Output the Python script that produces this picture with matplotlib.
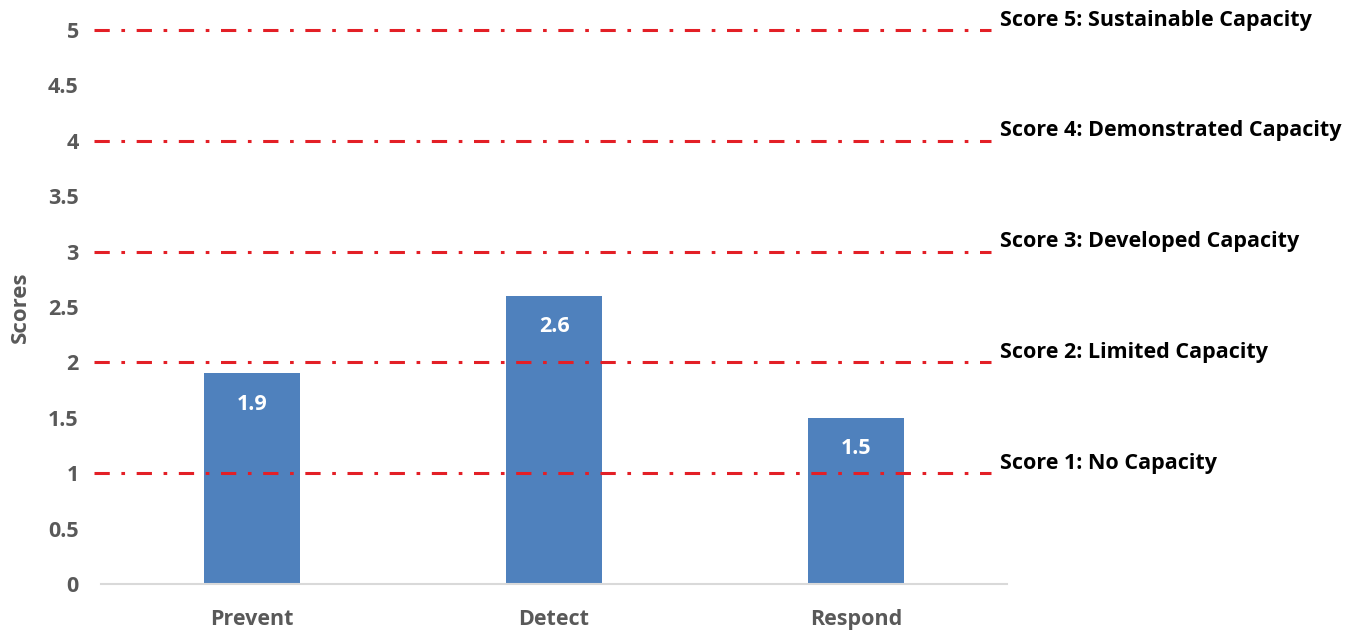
import matplotlib
matplotlib.use("Agg")
import matplotlib.pyplot as plt
from matplotlib.transforms import blended_transform_factory

categories = ["Prevent", "Detect", "Respond"]
scores = [1.9, 2.6, 1.5]
value_labels = ["1.9", "2.6", "1.5"]
levels = [1, 2, 3, 4, 5]
level_labels = ["Score 1: No Capacity", "Score 2: Limited Capacity",
                "Score 3: Developed Capacity", "Score 4: Demonstrated Capacity",
                "Score 5: Sustainable Capacity"]
yticks = [0, 0.5, 1, 1.5, 2, 2.5, 3, 3.5, 4, 4.5, 5]
ytick_labels = ["0", "0.5", "1", "1.5", "2", "2.5", "3", "3.5", "4", "4.5", "5"]

plt.rcParams['font.family'] = ['Open Sans', 'DejaVu Sans']

fig = plt.figure(figsize=(13.61, 6.31), dpi=100)
W, H = 1361, 631
ax = fig.add_axes([101 / W, 47 / H, (1007 - 101) / W, (584 - 30) / H])

x = list(range(len(categories)))
ax.bar(x, scores, width=0.315, color="#4F81BD", zorder=2)
for xi, s, lab in zip(x, scores, value_labels):
    ax.text(xi, s - 0.28, lab, ha="center", va="center", color="white",
            fontsize=15.5, fontweight="bold", zorder=4)

ax.set_xlim(-0.5, 2.5)
ax.set_ylim(0, 5)

trans = blended_transform_factory(ax.transAxes, ax.transData)
ftrans = blended_transform_factory(fig.transFigure, ax.transData)
x0 = (94 - 101) / (1007 - 101)
x1 = (991 - 101) / (1007 - 101)
for lv, lab in zip(levels, level_labels):
    ln, = ax.plot([x0, x1], [lv, lv], transform=trans, color="#E31F26",
                  lw=2.2, clip_on=False, zorder=3, solid_capstyle="butt",
                  dash_capstyle="butt")
    ln.set_dashes([5.0, 3.8, 1.2, 3.8])
    ax.text(1000 / W, lv + 0.09, lab, transform=ftrans,
            ha="left", va="center", fontsize=15.5, fontweight="bold", color="black")

ax.set_yticks(yticks)
ax.set_yticklabels(ytick_labels)
ax.set_xticks(x)
ax.set_xticklabels(categories)
ax.tick_params(axis="y", length=0, pad=16, labelsize=15.5, labelcolor="#595959")
ax.tick_params(axis="x", length=0, pad=18, labelsize=15.5, labelcolor="#595959")
for lab in ax.get_yticklabels() + ax.get_xticklabels():
    lab.set_fontweight("bold")

for sp in ["top", "right", "left"]:
    ax.spines[sp].set_visible(False)
ax.spines["bottom"].set_color("#D9D9D9")
ax.spines["bottom"].set_linewidth(1.5)

ax.set_ylabel("Scores", fontsize=16, fontweight="bold", color="#595959")
ax.yaxis.set_label_coords(-70 / (1007 - 101), 0.5)

fig.savefig("out.png", dpi=100, facecolor="white")
